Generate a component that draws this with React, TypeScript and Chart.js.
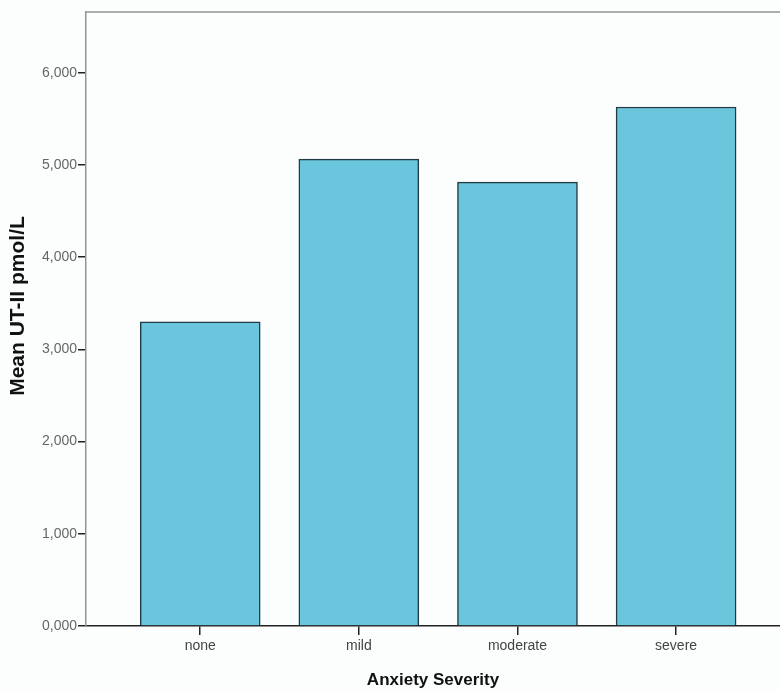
import React, { useEffect, useRef } from "react";
import { Chart, registerables } from "chart.js";

Chart.register(...registerables);

const categories = ["none", "mild", "moderate", "severe"];
const meanValues = [3.3, 5.065, 4.815, 5.63];
const yTickValues = [0, 1, 2, 3, 4, 5, 6];
const yTitle = "Mean UT-II pmol/L";
const xTitle = "Anxiety Severity";

const frameAndTitle = {
  id: "frameAndTitle",
  afterDraw(chart: any) {
    const { ctx, chartArea } = chart;
    ctx.save();
    ctx.strokeStyle = "#8f9496";
    ctx.lineWidth = 1.5;
    ctx.beginPath();
    ctx.moveTo(chartArea.left, chartArea.top);
    ctx.lineTo(chartArea.right, chartArea.top);
    ctx.stroke();
    ctx.translate(18, 306);
    ctx.rotate(-Math.PI / 2);
    ctx.fillStyle = "#111";
    ctx.font = "bold 21px 'Liberation Sans', Arial";
    ctx.textAlign = "center";
    ctx.textBaseline = "middle";
    ctx.fillText(yTitle, 0, 0);
    ctx.restore();
  },
};

export default function App() {
  const ref = useRef<HTMLCanvasElement | null>(null);
  useEffect(() => {
    if (!ref.current) return;
    const chart = new Chart(ref.current, {
      type: "bar",
      data: {
        datasets: [
          {
            data: categories.map((c, i) => ({ x: i, y: meanValues[i] })),
            backgroundColor: "#69c6dd",
            borderColor: "#213c46",
            borderWidth: 1.5,
            barThickness: 120,
          },
        ],
      },
      options: {
        animation: false,
        responsive: false,
        maintainAspectRatio: false,
        layout: { padding: { top: 12, right: 0, left: 0, bottom: 0 } },
        plugins: { legend: { display: false }, tooltip: { enabled: false } },
        scales: {
          x: {
            type: "linear",
            min: -0.72,
            max: 3.655,
            offset: false,
            afterBuildTicks: (scale: any) => {
              scale.ticks = categories.map((_, i) => ({ value: i }));
            },
            afterFit: (scale: any) => {
              scale.height = 65;
            },
            ticks: {
              callback: (v: any) => categories[v as number] ?? "",
              color: "#444",
              font: { family: "Liberation Sans, Arial", size: 14 },
              padding: 3,
              maxRotation: 0,
            },
            grid: {
              offset: false,
              drawOnChartArea: false,
              drawTicks: true,
              tickLength: 9,
              color: "#222",
              lineWidth: 1.5,
            },
            border: { color: "#222", width: 1.5 },
            title: {
              display: true,
              text: xTitle,
              color: "#111",
              font: { family: "Liberation Sans, Arial", size: 17, weight: "bold" },
              padding: { top: 4, bottom: 0 },
            },
          },
          y: {
            min: 0,
            max: 6.66,
            afterBuildTicks: (scale: any) => {
              scale.ticks = yTickValues.map((v) => ({ value: v }));
            },
            afterFit: (scale: any) => {
              scale.width = 86;
            },
            ticks: {
              callback: (v: any) => (v as number).toFixed(3).replace(".", ","),
              color: "#666",
              font: { family: "Liberation Sans, Arial", size: 14 },
              padding: 1,
            },
            grid: {
              drawOnChartArea: false,
              drawTicks: true,
              tickLength: 8,
              color: "#222",
              lineWidth: 1.5,
            },
            border: { color: "#8f9496", width: 1.5 },
          },
        },
      },
      plugins: [frameAndTitle],
    });
    return () => chart.destroy();
  }, []);
  return (
    <div
      style={{
        position: "absolute",
        left: 0,
        top: 0,
        width: 780,
        height: 691,
        overflow: "hidden",
        background: "#fcfdfd",
      }}
    >
      <canvas ref={ref} width={780} height={691} style={{ display: "block" }} />
    </div>
  );
}
